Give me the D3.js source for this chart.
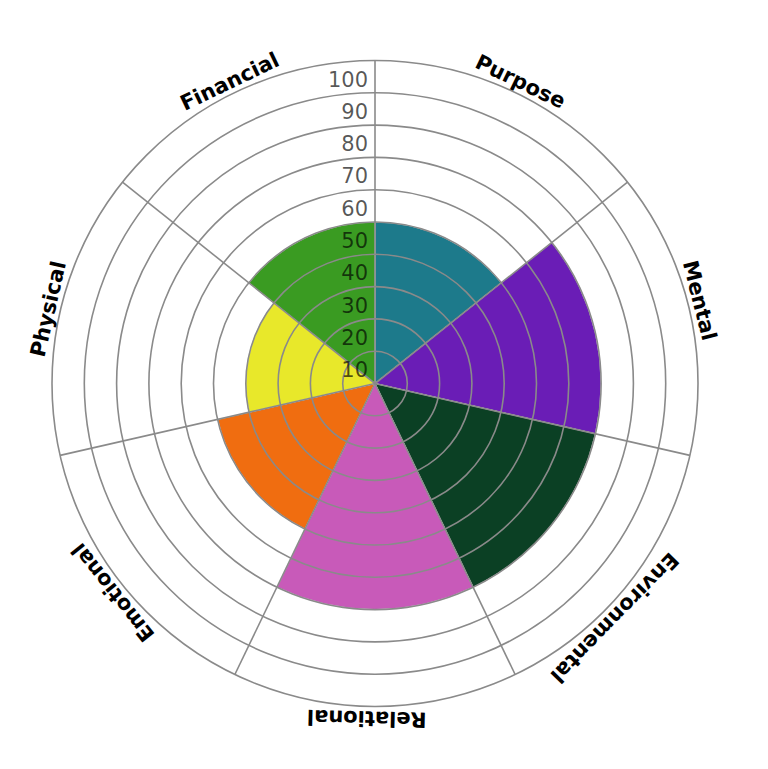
<!DOCTYPE html>
<html>
<head>
<meta charset="utf-8">
<script src="https://cdn.jsdelivr.net/npm/d3@7"></script>
<style>
  body { margin: 0; background: #fff; }
  svg { display: block; }
</style>
</head>
<body>
<svg id="chart"></svg>
<script>
// data
const categories = ['Purpose', 'Mental', 'Environmental', 'Relational', 'Emotional', 'Physical', 'Financial'];
const scores = [50, 70, 70, 70, 50, 40, 50];
const colors = ['#1d7a8b', '#6a1db6', '#0b4024', '#c85ab9', '#f06d10', '#e8e82a', '#3a9b22'];
const rTicks = [10, 20, 30, 40, 50, 60, 70, 80, 90, 100];

const width = 768, height = 769;
const cx = 375, cy = 383.5;
const outer = 323;

const svg = d3.select('#chart')
    .attr('width', width)
    .attr('height', height);

const g = svg.append('g')
    .attr('transform', `translate(${cx}, ${cy})`);

// scales
const rscale = d3.scaleLinear().domain([0, 100]).range([0, outer]);
const ascale = d3.scaleBand().domain(categories).range([0, 2 * Math.PI]).padding(0);

const arc = d3.arc()
    .innerRadius(0)
    .outerRadius(d => rscale(d.value))
    .startAngle(d => ascale(d.cat))
    .endAngle(d => ascale(d.cat) + ascale.bandwidth());

const rows = categories.map((c, i) => ({cat: c, value: scores[i], color: colors[i]}));

// bars
g.selectAll('path.bar')
    .data(rows)
    .join('path')
    .attr('class', 'bar')
    .attr('d', arc)
    .attr('fill', d => d.color)
    .attr('stroke', '#e6e6e6')
    .attr('stroke-width', 0.8);

// grid circles
g.selectAll('circle.grid')
    .data(rTicks)
    .join('circle')
    .attr('class', 'grid')
    .attr('r', d => rscale(d))
    .attr('fill', 'none')
    .attr('stroke', '#8a8a8a')
    .attr('stroke-width', 1.6);

// spokes
g.selectAll('line.spoke')
    .data(categories)
    .join('line')
    .attr('class', 'spoke')
    .attr('x1', 0).attr('y1', 0)
    .attr('x2', d => Math.sin(ascale(d)) * rscale(100))
    .attr('y2', d => -Math.cos(ascale(d)) * rscale(100))
    .attr('stroke', '#8a8a8a')
    .attr('stroke-width', 1.6);

// r tick labels
g.selectAll('text.rtick')
    .data(rTicks)
    .join('text')
    .attr('class', 'rtick')
    .attr('x', -7)
    .attr('y', d => -rscale(d) + 26)
    .attr('text-anchor', 'end')
    .style('font-family', 'DejaVu Sans, sans-serif')
    .style('font-size', '21px')
    .attr('fill', '#000')
    .attr('fill-opacity', 0.66)
    .text(d => d);

// category labels (small angle nudges in degrees, as in the original)
const labelR = 335;
const nudge = {Mental: -1.5, Environmental: 5.8, Relational: 1.4};
g.selectAll('text.cat')
    .data(categories)
    .join('text')
    .attr('class', 'cat')
    .attr('transform', d => {
        const a = ascale(d) + ascale.bandwidth() / 2 + (nudge[d] || 0) * Math.PI / 180;
        const x = Math.sin(a) * labelR, y = -Math.cos(a) * labelR;
        return `translate(${x}, ${y}) rotate(${a * 180 / Math.PI})`;
    })
    .attr('text-anchor', 'middle')
    .attr('dominant-baseline', 'central')
    .style('font-family', 'DejaVu Sans, sans-serif')
    .style('font-size', '21px')
    .style('font-weight', 'bold')
    .attr('fill', '#000')
    .text(d => d);
</script>
</body>
</html>
